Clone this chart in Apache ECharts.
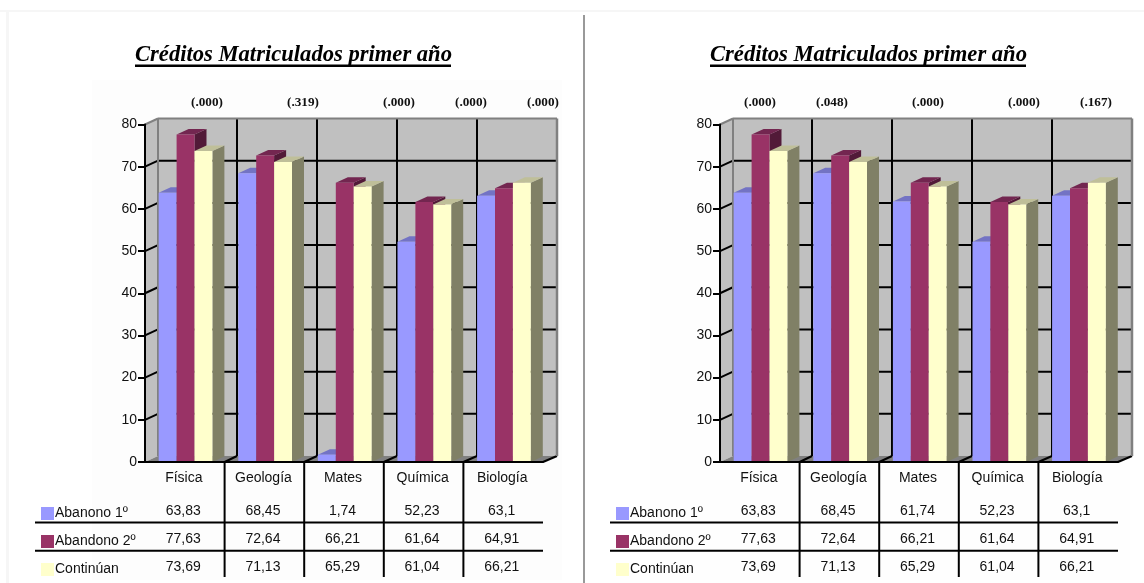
<!DOCTYPE html>
<html><head><meta charset="utf-8">
<style>html,body{margin:0;padding:0;background:#fff}#c{width:1144px;height:583px}</style>
<script src="https://cdn.jsdelivr.net/npm/echarts@6/dist/echarts.min.js"></script>
</head><body><div id="c"></div>
<script>
const titleText = 'Créditos Matriculados primer año';
const categories = ['Física','Geología','Mates','Química','Biología'];
const yTicks = [0,10,20,30,40,50,60,70,80];
const seriesNames = ['Abanono 1º','Abandono 2º','Continúan'];
const leftAbandono1 = [63.83,68.45,1.74,52.23,63.1];
const rightAbandono1 = [63.83,68.45,61.74,52.23,63.1];
const abandono2 = [77.63,72.64,66.21,61.64,64.91];
const continuan = [73.69,71.13,65.29,61.04,66.21];
const leftPValues = ['(.000)','(.319)','(.000)','(.000)','(.000)'];
const rightPValues = ['(.000)','(.048)','(.000)','(.000)','(.167)'];
const leftPX = [207,303,399,471,543];
const rightPX = [760,832,928,1024,1096];

const faces = [
  {front:'#9999FF',top:'#7373C4',side:'#7373BF'},
  {front:'#993366',top:'#732650',side:'#521A38'},
  {front:'#FFFFCC',top:'#BFBF99',side:'#808066'}
];
const SANS = '"Liberation Sans",Arial,sans-serif', SERIF = '"Liberation Serif","Times New Roman",serif';
const DY = 6, WALLX = 13, BACKX = 12, BACKCAT = 80, TOPY = 124.5, BOTY = 462, PLOTW = 398;
const CATW = PLOTW/5;
const poly = (points, fill) => ({type:'polygon', shape:{points}, style:{fill}});
const seg = (x1,y1,x2,y2,stroke,lineWidth) => ({type:'line', shape:{x1,y1,x2,y2}, style:{stroke,lineWidth}});
const fmt = v => String(v).replace('.',',');

function wallSeries(idx){
  return {
    type:'custom', xAxisIndex:idx, yAxisIndex:idx, z:1, clip:false, silent:true,
    data:[0],
    renderItem(p, api){
      const [fx, y0] = api.coord([0,0]);
      const w = api.size([1,0])[0];
      const left = fx - w/2, right = left + w*categories.length;
      const y80 = api.coord([0,yTicks[yTicks.length-1]])[1];
      const bx = left + WALLX, rx = left + BACKX + BACKCAT*categories.length;
      const ch = [];
      ch.push(poly([[left,y0],[left,y80],[bx,y80-DY],[bx,y0-DY]],'#C0C0C0'));
      ch.push(poly([[bx,y80-DY],[rx,y80-DY],[rx,y0-DY],[bx,y0-DY]],'#C0C0C0'));
      ch.push(poly([[left,y0],[bx,y0-DY],[rx,y0-DY],[right,y0]],'#808080'));
      yTicks.forEach(t => {
        if (t===0) return;
        const y = api.coord([0,t])[1];
        if (t!==80) ch.push(seg(bx,y-DY,rx,y-DY,'#000',2));
        ch.push(seg(left,y,bx,y-DY,t===80?'#808080':'#000',2));
      });
      categories.forEach((c,i) => {
        if (i===0) return;
        const x = left + BACKX + i*BACKCAT;
        ch.push(seg(x,y80-DY,x,y0-DY,'#000',2));
        ch.push(seg(left+i*w,y0,x,y0-DY,'#000',2));
      });
      ch.push(seg(right,y0,rx,y0-DY,'#000',2));
      ch.push(seg(bx,y80-DY,rx,y80-DY,'#808080',2));
      ch.push(seg(bx,y80-DY,bx,y0-DY,'#808080',2));
      ch.push(seg(rx,y80-DY,rx,y0-DY,'#808080',2.5));
      return {type:'group', children:ch};
    }
  };
}

function barSeries(idx, s, values){
  const BW = 17.9, OFF = 13.7, BDX = 12, BDY = 5.5;
  const f = faces[s];
  return {
    type:'custom', name:seriesNames[s], xAxisIndex:idx, yAxisIndex:idx, z:3+s, clip:false,
    data:values.map((v,i)=>[i,v]),
    encode:{x:0,y:1},
    renderItem(p, api){
      const c = api.value(0), v = api.value(1);
      const [cx, y] = api.coord([c,v]);
      const y0 = api.coord([c,0])[1];
      const left = cx - api.size([1,0])[0]/2;
      const x0 = left + OFF + s*BW, x1 = x0 + BW;
      return {type:'group', children:[
        poly([[x1,y0],[x1,y],[x1+BDX,y-BDY],[x1+BDX,y0-BDY]], f.side),
        poly([[x0,y],[x0+BDX,y-BDY],[x1+BDX,y-BDY],[x1,y]], f.top),
        poly([[x0,y0],[x0,y],[x1,y],[x1,y0]], f.front),
        {type:'text', style:{x:cx-1.5, y:y0+49+s*28, text:fmt(v), fill:'#111', font:'14px '+SANS, align:'center', verticalAlign:'middle'}}
      ]};
    }
  };
}

function chartGraphics(ox, tableLeft, swatchX, titleX, pTexts, pX){
  const g = [];
  g.push({type:'text', x:titleX, y:55, style:{text:titleText, fill:'#000', font:'italic bold 22.6px '+SERIF, verticalAlign:'middle'}});
  g.push({type:'rect', shape:{x:titleX,y:64.5,width:316,height:2.4}, style:{fill:'#000'}});
  pTexts.forEach((t,i) => g.push({type:'text', x:pX[i], y:103, style:{text:t, fill:'#111', font:'bold 13.2px '+SERIF, align:'center', verticalAlign:'middle'}}));
  [522.5,550.7].forEach(y => g.push({type:'rect', shape:{x:tableLeft,y:y-1,width:ox+PLOTW-tableLeft,height:2}, style:{fill:'#000'}}));
  [1,2,3,4].forEach(i => g.push({type:'rect', shape:{x:ox+i*CATW-1,y:BOTY,width:2,height:115}, style:{fill:'#000'}}));
  seriesNames.forEach((n,s) => {
    const y = 507 + s*28;
    g.push({type:'rect', shape:{x:swatchX,y:y,width:13,height:13}, style:{fill:faces[s].front}});
    g.push({type:'text', x:swatchX+14, y:y+6, style:{text:n, fill:'#111', font:'14px '+SANS, verticalAlign:'middle'}});
  });
  return g;
}

const grids = [
  {left:145, top:TOPY, width:PLOTW, height:BOTY-TOPY},
  {left:720, top:TOPY, width:PLOTW, height:BOTY-TOPY}
];
const xAxis = [0,1].map(i => ({
  type:'category', gridIndex:i, data:categories, z:10,
  axisLine:{lineStyle:{color:'#000',width:2}},
  axisTick:{show:false}, splitLine:{show:false},
  axisLabel:{color:'#111', fontFamily:SANS, fontSize:14, margin:9, padding:[0,2,0,0]}
}));
const yAxis = [0,1].map(i => ({
  type:'value', gridIndex:i, min:0, max:80, interval:10, z:10,
  axisLine:{show:true, lineStyle:{color:'#000',width:2}},
  axisTick:{show:true, length:7, lineStyle:{color:'#000',width:2}},
  splitLine:{show:false},
  axisLabel:{color:'#111', fontFamily:SANS, fontSize:14, margin:8}
}));

const chart = echarts.init(document.getElementById('c'), null, {renderer:'canvas'});
chart.setOption({
  animation:false, backgroundColor:'#fff',
  grid:grids, xAxis, yAxis,
  graphic:{elements:[
    {type:'rect', z:-1, shape:{x:0,y:10,width:1144,height:2}, style:{fill:'#f6f6f6'}},
    {type:'rect', z:-1, shape:{x:6,y:10,width:3,height:573}, style:{fill:'#f6f6f6'}},
    {type:'rect', z:-1, shape:{x:92,y:80,width:470,height:500}, style:{fill:'#fdfdfd'}},
    {type:'rect', z:-1, shape:{x:650,y:80,width:480,height:500}, style:{fill:'#fefefe'}},
    {type:'rect', shape:{x:583,y:15,width:2,height:568}, style:{fill:'#999'}},
    ...chartGraphics(145,35,41,135,leftPValues,leftPX),
    ...chartGraphics(720,610,616,710,rightPValues,rightPX)
  ]},
  series:[
    wallSeries(0),
    barSeries(0,0,leftAbandono1), barSeries(0,1,abandono2), barSeries(0,2,continuan),
    wallSeries(1),
    barSeries(1,0,rightAbandono1), barSeries(1,1,abandono2), barSeries(1,2,continuan)
  ]
});
</script></body></html>
